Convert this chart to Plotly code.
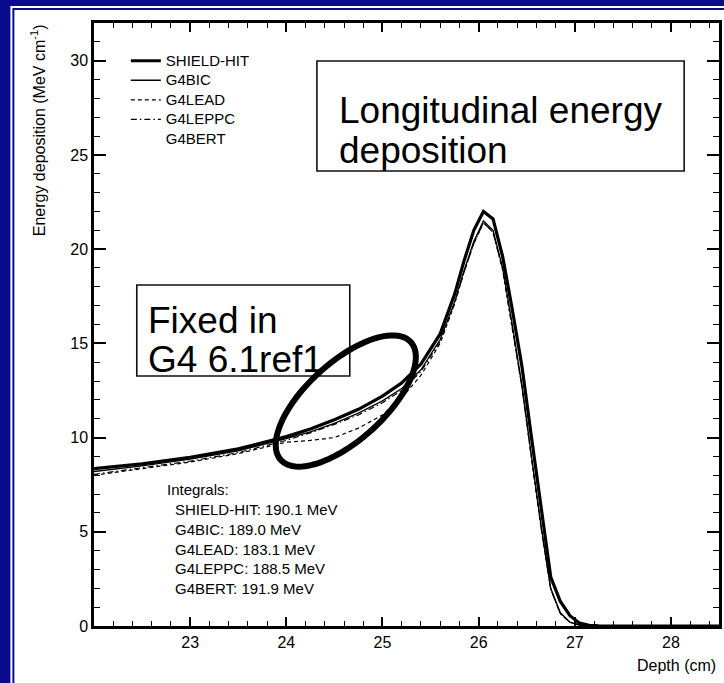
import numpy as np
import plotly.graph_objects as go

# ---------------- data ----------------
depth = [22.0, 22.5, 23.0, 23.5, 24.0, 24.25, 24.5, 24.75, 25.0, 25.2, 25.4, 25.6,
         25.75, 25.85, 25.95, 26.05, 26.15, 26.25, 26.35, 26.45, 26.55, 26.65,
         26.75, 26.85, 26.95, 27.05, 27.15, 27.25, 27.5, 28.0, 28.5]

shield_hit = [8.35, 8.6, 8.95, 9.4, 10.05, 10.45, 10.95, 11.5, 12.2, 12.9, 13.9, 15.5,
              17.6, 19.4, 21.0, 22.0, 21.6, 19.6, 16.8, 13.8, 10.0, 6.3,
              2.6, 1.3, 0.55, 0.15, 0.04, 0.01, 0.0, 0.0, 0.0]

g4bic = [8.2, 8.5, 8.85, 9.3, 9.95, 10.3, 10.75, 11.3, 11.95, 12.6, 13.6, 15.2,
         17.2, 18.9, 20.4, 21.5, 21.0, 19.0, 16.0, 12.8, 9.0, 5.3,
         2.0, 0.7, 0.2, 0.05, 0.0, 0.0, 0.0, 0.0, 0.0]

g4lead = [8.0, 8.35, 8.7, 9.15, 9.75, 9.85, 10.0, 10.5, 11.2, 12.1, 13.3, 15.0,
          17.1, 18.8, 20.3, 21.4, 20.9, 18.9, 15.9, 12.7, 8.9, 5.2,
          1.95, 0.65, 0.2, 0.05, 0.0, 0.0, 0.0, 0.0, 0.0]

g4leppc = [8.05, 8.4, 8.75, 9.2, 9.85, 10.25, 10.7, 11.2, 11.85, 12.5, 13.5, 15.1,
           17.1, 18.8, 20.3, 21.4, 20.9, 18.9, 15.9, 12.7, 8.9, 5.2,
           1.95, 0.65, 0.2, 0.05, 0.0, 0.0, 0.0, 0.0, 0.0]

g4bert = [8.4, 8.65, 9.0, 9.45, 10.1, 10.5, 11.0, 11.55, 12.25, 12.95, 13.95, 15.55,
          17.65, 19.45, 21.05, 22.05, 21.65, 19.65, 16.85, 13.85, 10.05, 6.35,
          2.65, 1.35, 0.6, 0.17, 0.05, 0.01, 0.0, 0.0, 0.0]

series_names = ["SHIELD-HIT", "G4BIC", "G4LEAD", "G4LEPPC", "G4BERT"]

x_ticks = [23, 24, 25, 26, 27, 28]
y_ticks = [0, 5, 10, 15, 20, 25, 30]

integral_title = "Integrals:"
integral_lines = ["SHIELD-HIT: 190.1 MeV", "G4BIC: 189.0 MeV", "G4LEAD: 183.1 MeV",
                  "G4LEPPC: 188.5 MeV", "G4BERT: 191.9 MeV"]

box1_lines = ["Longitudinal energy", "deposition"]
box2_lines = ["Fixed in", "G4 6.1ref1"]

# ---------------- layout geometry ----------------
W, H = 724, 683
ML, MR, MT, MB = 94, 2, 23, 57
X_RANGE = [22.0, 28.5]
Y_RANGE = [0, 32]
PW = W - ML - MR
PH = H - MT - MB
FONT = "Liberation Sans, Arial, Helvetica, sans-serif"
NAVY = "#0a0a8c"


def pxx(px):  # pixel -> paper x
    return (px - ML) / PW


def pxy(py):  # pixel -> paper y
    return (H - MB - py) / PH


def dx(px):  # pixel -> data x
    return X_RANGE[0] + (px - ML) / PW * (X_RANGE[1] - X_RANGE[0])


def dy(py):  # pixel -> data y
    return Y_RANGE[0] + (H - MB - py) / PH * (Y_RANGE[1] - Y_RANGE[0])


fig = go.Figure()

styles = [
    dict(color="black", width=3.2),
    dict(color="black", width=1.3),
    dict(color="black", width=1.2, dash="4px,3px"),
    dict(color="black", width=1.2, dash="6px,3px,1.5px,3px"),
    dict(color="black", width=0),
]
for name, ys, st in zip(series_names, [shield_hit, g4bic, g4lead, g4leppc, g4bert], styles):
    fig.add_trace(go.Scatter(x=depth, y=ys, mode="lines",
                             name=f'<span style="font-size:15px">{name}</span>', line=st))

shapes = []
# page frame: navy background with white/navy pin-stripes
shapes.append(dict(type="rect", xref="paper", yref="paper", layer="below",
                   x0=pxx(10), x1=pxx(780), y0=pxy(6), y1=pxy(760),
                   fillcolor="white", line=dict(width=0)))
shapes.append(dict(type="rect", xref="paper", yref="paper", layer="below",
                   x0=pxx(12), x1=pxx(780), y0=pxy(8), y1=pxy(760),
                   fillcolor=NAVY, line=dict(width=0)))
shapes.append(dict(type="rect", xref="paper", yref="paper", layer="below",
                   x0=pxx(14), x1=pxx(780), y0=pxy(10), y1=pxy(760),
                   fillcolor="white", line=dict(width=0)))

# annotation boxes
shapes.append(dict(type="rect", xref="x", yref="y", layer="above",
                   x0=dx(318), x1=dx(687), y0=dy(61), y1=dy(171),
                   line=dict(color="#111", width=1.6), fillcolor="rgba(0,0,0,0)"))
shapes.append(dict(type="rect", xref="x", yref="y", layer="above",
                   x0=dx(137), x1=dx(351), y0=dy(285), y1=dy(376),
                   line=dict(color="#111", width=1.6), fillcolor="rgba(0,0,0,0)"))

# ellipse highlight
cx, cy, a, b, th = 347, 401, 88, 39, np.deg2rad(42)
t = np.linspace(0, 2 * np.pi, 90)
ex = cx + a * np.cos(t) * np.cos(th) + b * np.sin(t) * np.sin(th)
ey = cy - a * np.cos(t) * np.sin(th) + b * np.sin(t) * np.cos(th)
path = "M " + " L ".join(f"{dx(u):.4f},{dy(v):.4f}" for u, v in zip(ex, ey)) + " Z"
shapes.append(dict(type="path", xref="x", yref="y", path=path, layer="above",
                   line=dict(color="black", width=6)))

annotations = []
annotations.append(dict(text="Energy deposition (MeV cm<sup>-1</sup>)", textangle=-90,
                        xref="paper", yref="paper", x=pxx(38), y=pxy(22),
                        xanchor="center", yanchor="top", showarrow=False,
                        font=dict(family=FONT, size=16, color="black")))
annotations.append(dict(text="Depth (cm)", xref="paper", yref="paper",
                        x=pxx(721), y=pxy(665), xanchor="right", yanchor="middle",
                        showarrow=False, font=dict(family=FONT, size=16, color="black")))

for i, line in enumerate(box1_lines):
    annotations.append(dict(text=line, xref="paper", yref="paper",
                            x=pxx(338), y=pxy(110 + 40 * i), xanchor="left", yanchor="middle",
                            showarrow=False, font=dict(family=FONT, size=37, color="black")))
for i, line in enumerate(box2_lines):
    annotations.append(dict(text=line, xref="paper", yref="paper",
                            x=pxx(146), y=pxy(320 + 39 * i), xanchor="left", yanchor="middle",
                            showarrow=False, font=dict(family=FONT, size=37, color="black")))

annotations.append(dict(text=integral_title, xref="paper", yref="paper",
                        x=pxx(165), y=pxy(489), xanchor="left", yanchor="middle",
                        showarrow=False, font=dict(family=FONT, size=15, color="black")))
for i, line in enumerate(integral_lines):
    annotations.append(dict(text=line, xref="paper", yref="paper",
                            x=pxx(173), y=pxy(509.5 + 19.8 * i), xanchor="left", yanchor="middle",
                            showarrow=False, font=dict(family=FONT, size=15, color="black")))

axis_common = dict(showline=True, linecolor="black", linewidth=2.5, mirror="ticks",
                   ticks="inside", tickcolor="black", tickwidth=1.5,
                   showgrid=False, zeroline=False,
                   tickfont=dict(family=FONT, size=16, color="black"))

fig.update_layout(
    width=W, height=H,
    margin=dict(l=ML, r=MR, t=MT, b=MB, pad=0),
    paper_bgcolor=NAVY, plot_bgcolor="white",
    font=dict(family=FONT, color="black"),
    xaxis=dict(range=X_RANGE, tickmode="array", tickvals=x_ticks, ticklen=9,
               minor=dict(ticks="inside", ticklen=5, tickwidth=1.2, tickcolor="black",
                          dtick=0.2, tick0=22, showgrid=False),
               **axis_common),
    yaxis=dict(range=Y_RANGE, tickmode="array", tickvals=y_ticks, ticklen=12,
               minor=dict(ticks="inside", ticklen=6, tickwidth=1.2, tickcolor="black",
                          dtick=1, tick0=0, showgrid=False),
               **axis_common),
    legend=dict(x=pxx(126), y=pxy(46), xanchor="left", yanchor="top",
                bgcolor="rgba(0,0,0,0)", borderwidth=0,
                font=dict(family=FONT, size=12.7, color="black"),
                itemwidth=30, tracegroupgap=0),
    showlegend=True,
    shapes=shapes,
    annotations=annotations,
)

fig.write_html("out.html")
